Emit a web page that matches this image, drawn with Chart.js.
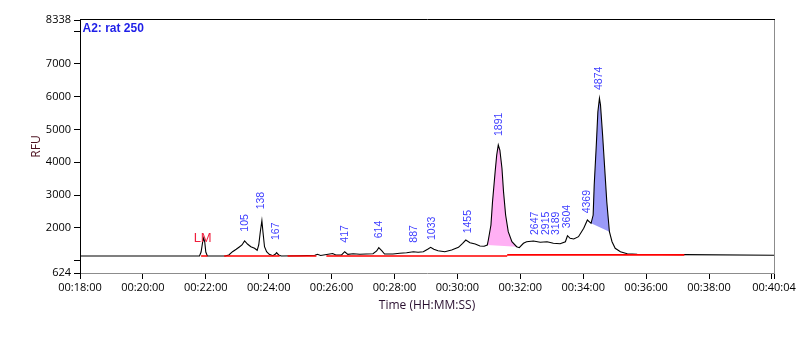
<!DOCTYPE html>
<html>
<head>
<meta charset="utf-8">
<script src="https://cdn.jsdelivr.net/npm/chart.js@4/dist/chart.umd.min.js"></script>
<style>
  html, body { margin: 0; padding: 0; background: #fff; }
  #wrap { width: 804px; height: 358px; position: relative; }
</style>
</head>
<body>
<div id="wrap"><canvas id="c" width="804" height="358"></canvas></div>
<script>
// ---- data (time in seconds, signal in RFU) ----
const traceTime = [
  1080,1308,1311,1314,1316,1318,1320,1323,1357,1364,
  1371,1378,1384,1389,1394,1400,1406,1413,1418,1421,
  1424,1427,1429,1432,1436,1441,1448,1453,1455,1459,
  1464,1499,1528,1533,1539,1562,1568,1579,1585,1591,
  1601,1614,1626,1639,1646,1650,1656,1661,1677,1690,
  1703,1716,1725,1735,1744,1749,1755,1763,1776,1789,
  1802,1810,1816,1824,1834,1843,1851,1857,1859,1864,
  1867,1872,1875,1878,1881,1885,1888,1892,1897,1904,
  1913,1918,1926,1932,1945,1958,1971,1983,1996,2006,
  2010,2015,2022,2031,2041,2048,2055,2059,2061,2065,
  2068,2071,2073,2077,2081,2085,2090,2095,2101,2111,
  2124,2143,2233,2404
];
const traceRFU = [
  1142,1142,1264,1569,1691,1569,1264,1142,1142,1173,
  1273,1347,1417,1478,1600,1499,1426,1377,1316,1478,
  1883,2219,1883,1426,1273,1194,1151,1203,1243,1173,
  1142,1151,1164,1194,1158,1219,1173,1173,1273,1194,
  1212,1194,1203,1212,1295,1395,1295,1203,1203,1225,
  1243,1273,1255,1273,1356,1408,1347,1304,1273,1325,
  1408,1530,1630,1548,1508,1447,1438,1478,1630,2088,
  2798,3713,4222,4527,4374,3816,3103,2392,1883,1578,
  1426,1395,1530,1578,1600,1560,1578,1530,1517,1578,
  1761,1682,1661,1731,1987,2240,2139,2392,3307,4527,
  5542,5951,5746,4832,3816,2798,1883,1578,1377,1273,
  1212,1194,1185,1164
];

// integrated peak windows (seconds)
const pinkPeakRange = [1857, 1913];
const bluePeakRange = [2055, 2090];

// red integration baseline segments (seconds) and their levels (RFU)
const redSegments = [[1311,1323],[1355,1461],[1476,1531],[1550,1895],[1895,2233]];
const redLevels   = [1142, 1142, 1142, 1142, 1178];

// peak size labels: text, time, RFU at label's lower end
const peakLabels   = ['105','138','167','417','614','887','1033','1455','1891','2647','2915','3189','3604','4369','4874'];
const peakLabelT   = [1395, 1426, 1454, 1585, 1650, 1717, 1751, 1821, 1879, 1948, 1969, 1988, 2010, 2048, 2071];
const peakLabelRFU = [1883, 2566, 1630, 1548, 1682, 1548, 1630, 1834, 4801, 1783, 1783, 1783, 1987, 2444, 6204];

const markerLabel = 'LM';
const markerT = 1314;
const markerRFU = 1560;

const chartTitle = 'A2: rat 250';

const xTickValues = [1080,1200,1320,1440,1560,1680,1800,1920,2040,2160,2280,2400,2404];
const xTickLabels = ['00:18:00','00:20:00','00:22:00','00:24:00','00:26:00','00:28:00','00:30:00','00:32:00','00:34:00','00:36:00','00:38:00','','00:40:04'];
const yTickValues = [624,1000,2000,3000,4000,5000,6000,7000,8000,8338];
const yTickLabels = ['624','','2000','3000','4000','5000','6000','7000','','8338'];

// ---- build datasets ----
const trace = traceTime.map((t, i) => ({x: t, y: traceRFU[i]}));
function sub(range) { return trace.filter(p => p.x >= range[0] && p.x <= range[1]); }
function chord(pts) { return [pts[0], pts[pts.length - 1]].map(p => ({x: p.x, y: p.y})); }
const pinkPts = sub(pinkPeakRange);
const bluePts = sub(bluePeakRange);
const redPts = [];
redSegments.forEach((s, i) => {
  redPts.push({x: s[0], y: redLevels[i]}, {x: s[1], y: redLevels[i]}, {x: s[1] + 0.01, y: null});
});

const overlay = {
  id: 'overlay',
  afterDatasetsDraw(chart) {
    const {ctx, chartArea: a, scales: {x, y}} = chart;
    ctx.save();
    // frame top / right
    ctx.lineWidth = 1;
    ctx.strokeStyle = '#000';
    ctx.beginPath(); ctx.moveTo(a.left, a.top - 0.5); ctx.lineTo(a.right + 1, a.top - 0.5); ctx.stroke();
    ctx.strokeStyle = '#8c8c8c';
    ctx.beginPath(); ctx.moveTo(a.right + 0.5, a.top); ctx.lineTo(a.right + 0.5, a.bottom); ctx.stroke();
    // title
    ctx.fillStyle = '#1e1ee8';
    ctx.font = 'bold 12px "Liberation Sans", Arial, sans-serif';
    ctx.textAlign = 'left'; ctx.textBaseline = 'alphabetic';
    ctx.fillText(chartTitle, a.left + 2.5, a.top + 11.7);
    // peak labels
    ctx.fillStyle = '#3c3cff';
    ctx.font = '10.5px "Liberation Sans", Arial, sans-serif';
    peakLabels.forEach((lab, i) => {
      const px = x.getPixelForValue(peakLabelT[i]);
      const py = y.getPixelForValue(peakLabelRFU[i]);
      ctx.save();
      ctx.translate(px, py);
      ctx.rotate(-Math.PI / 2);
      ctx.textAlign = 'left'; ctx.textBaseline = 'middle';
      ctx.fillText(lab, 0, 0);
      ctx.restore();
    });
    // LM marker
    ctx.fillStyle = '#f01e3c';
    ctx.font = '13px "Liberation Sans", Arial, sans-serif';
    ctx.textAlign = 'center'; ctx.textBaseline = 'alphabetic';
    ctx.fillText(markerLabel, x.getPixelForValue(markerT), y.getPixelForValue(markerRFU));
    ctx.restore();
  }
};

new Chart(document.getElementById('c'), {
  type: 'line',
  data: {
    datasets: [
      { data: redPts, borderColor: '#ff0000', borderWidth: 1.6, pointRadius: 0, spanGaps: false, fill: false, order: 0 },
      { data: trace, borderColor: '#000000', borderWidth: 1.1, pointRadius: 0, fill: false, order: 1 },
      { data: pinkPts, borderColor: 'transparent', borderWidth: 0, pointRadius: 0, backgroundColor: '#ffb0f4', fill: 3, order: 2 },
      { data: chord(pinkPts), borderColor: 'transparent', borderWidth: 0, pointRadius: 0, fill: false, order: 3 },
      { data: bluePts, borderColor: 'transparent', borderWidth: 0, pointRadius: 0, backgroundColor: '#9a9af8', fill: 5, order: 4 },
      { data: chord(bluePts), borderColor: 'transparent', borderWidth: 0, pointRadius: 0, fill: false, order: 5 }
    ]
  },
  options: {
    responsive: false,
    animation: false,
    events: [],
    layout: { padding: { top: 20, right: 30, bottom: 43, left: 0 } },
    plugins: { legend: { display: false }, tooltip: { enabled: false }, title: { display: false } },
    scales: {
      x: {
        type: 'linear', min: 1080, max: 2404,
        afterBuildTicks: s => { s.ticks = xTickValues.map(v => ({value: v})); },
        afterFit: s => { s.height = 42; },
        ticks: {
          autoSkip: false, maxRotation: 0, minRotation: 0, padding: 2,
          color: '#000', font: { family: '"Open Sans", sans-serif', size: 11 },
          callback: (v, i) => xTickLabels[i]
        },
        grid: { drawOnChartArea: false, drawTicks: true, tickLength: 6, tickColor: '#000' },
        border: { color: '#8c8c8c', width: 1 },
        title: { display: true, text: 'Time (HH:MM:SS)', color: '#2a1030',
                 font: { family: '"Open Sans", sans-serif', size: 12 }, padding: { top: 0, bottom: 2 } }
      },
      y: {
        type: 'linear', min: 624, max: 8338,
        afterBuildTicks: s => { s.ticks = yTickValues.map(v => ({value: v})); },
        afterFit: s => { s.width = 80; },
        ticks: {
          autoSkip: false, padding: 3,
          color: '#000', font: { family: '"Open Sans", sans-serif', size: 11 },
          callback: (v, i) => yTickLabels[i]
        },
        grid: { drawOnChartArea: false, drawTicks: true, tickLength: 6, tickColor: '#000' },
        border: { color: '#000', width: 1 },
        title: { display: true, text: 'RFU', color: '#4b0f1e',
                 font: { family: '"Open Sans", sans-serif', size: 12 }, padding: { top: 29, bottom: 0 } }
      }
    }
  },
  plugins: [overlay]
});
</script>
</body>
</html>
